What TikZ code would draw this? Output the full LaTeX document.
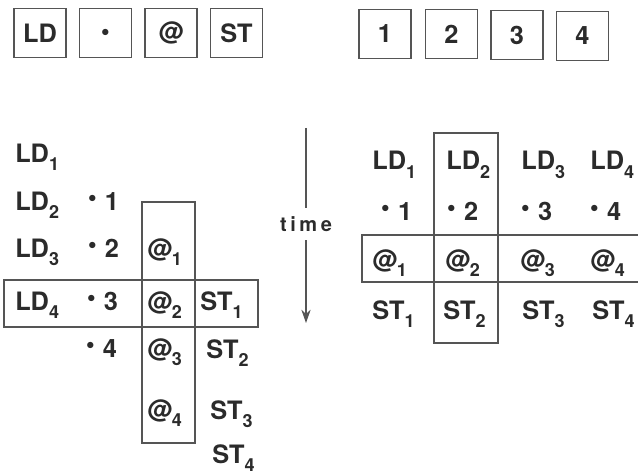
\documentclass[tikz,border=0pt]{standalone}
\usepackage{fontspec}
\setmainfont{TeX Gyre Heros}
\newfontfamily\timefont[LetterSpace=18]{TeX Gyre Heros}
\usetikzlibrary{arrows.meta}
\definecolor{ink}{HTML}{2B2B2B}
\definecolor{rulec}{HTML}{555555}
\newcommand\sbx[1]{\raisebox{-6pt}{\fontsize{13.5}{13.5}\selectfont #1}}
\newcommand\dotx{\raisebox{5.5pt}{\scalebox{0.7}{$\bullet$}}\hspace{6.5pt}}
\begin{document}
\begin{tikzpicture}[x=0.75pt,y=-0.75pt,
  txt/.style={anchor=base west,inner sep=0pt,font=\fontsize{19}{19}\selectfont\bfseries,text=ink},
  keybox/.style={draw=rulec,line width=0.9pt,minimum width=39pt,minimum height=36.5pt,inner sep=0pt,font=\fontsize{19}{19}\selectfont\bfseries,text=ink},
  frame/.style={draw=rulec,line width=0.9pt}]
\useasboundingbox (0,0) rectangle (638,474);

% top legend boxes
\node[keybox] (kLD) at (40,33) {LD};
\node[keybox] (kMul) at (105.5,33) {\scalebox{0.7}{$\bullet$}};
\node[keybox] (kAt) at (171,33) {@};
\node[keybox] (kST) at (236.5,33) {ST};
\node[keybox] (k1) at (385,34) {1};
\node[keybox] (k2) at (451.5,34) {2};
\node[keybox] (k3) at (517,35) {3};
\node[keybox] (k4) at (582.5,36) {4};

% left grid
\node[txt] (lA1) at (15,162) {LD\sbx{1}};
\node[txt] (lA2) at (15,210) {LD\sbx{2}};
\node[txt] (lA3) at (15,257) {LD\sbx{3}};
\node[txt] (lA4) at (15,310) {LD\sbx{4}};
\node[txt] (lB1) at (88,210) {\dotx 1};
\node[txt] (lB2) at (88,257) {\dotx 2};
\node[txt] (lB3) at (87,310) {\dotx 3};
\node[txt] (lB4) at (86,357) {\dotx 4};
\node[txt] (lC1) at (147,257) {@\sbx{1}};
\node[txt] (lC2) at (147,310) {@\sbx{2}};
\node[txt] (lC3) at (147,357) {@\sbx{3}};
\node[txt] (lC4) at (147,418) {@\sbx{4}};
\node[txt] (lD1) at (200,310) {ST\sbx{1}};
\node[txt] (lD2) at (206,358) {ST\sbx{2}};
\node[txt] (lD3) at (210,419) {ST\sbx{3}};
\node[txt] (lD4) at (212,463) {ST\sbx{4}};
\draw[frame] (142,202) rectangle (195,443);
\draw[frame] (4,280) rectangle (258,327);

% time arrow
\coordinate (ttop) at (306,128);
\node[inner sep=0pt,minimum height=24pt,font=\timefont\fontsize{15}{15}\selectfont\bfseries,text=ink] (tlab) at (306,224) {time};
\coordinate (tbot) at (306,323);
\draw[frame] (ttop) -- (tlab);
\draw[frame,-{Stealth[length=10pt,width=7pt]}] (tlab) -- (tbot);

% right grid
\node[txt] (rA1) at (372,170) {LD\sbx{1}};
\node[txt] (rA2) at (446,170) {LD\sbx{2}};
\node[txt] (rA3) at (521,170) {LD\sbx{3}};
\node[txt] (rA4) at (590,170) {LD\sbx{4}};
\node[txt] (rB1) at (381,220) {\dotx 1};
\node[txt] (rB2) at (447,220) {\dotx 2};
\node[txt] (rB3) at (521,220) {\dotx 3};
\node[txt] (rB4) at (590,220) {\dotx 4};
\node[txt] (rC1) at (372,268) {@\sbx{1}};
\node[txt] (rC2) at (445,268) {@\sbx{2}};
\node[txt] (rC3) at (520,268) {@\sbx{3}};
\node[txt] (rC4) at (590,268) {@\sbx{4}};
\node[txt] (rD1) at (372,319) {ST\sbx{1}};
\node[txt] (rD2) at (443,319) {ST\sbx{2}};
\node[txt] (rD3) at (522,319) {ST\sbx{3}};
\node[txt] (rD4) at (592,319) {ST\sbx{4}};
\draw[frame] (434,133) rectangle (498,343);
\draw[frame] (642,235) -| (362,282) -- (642,282);
\end{tikzpicture}
\end{document}
